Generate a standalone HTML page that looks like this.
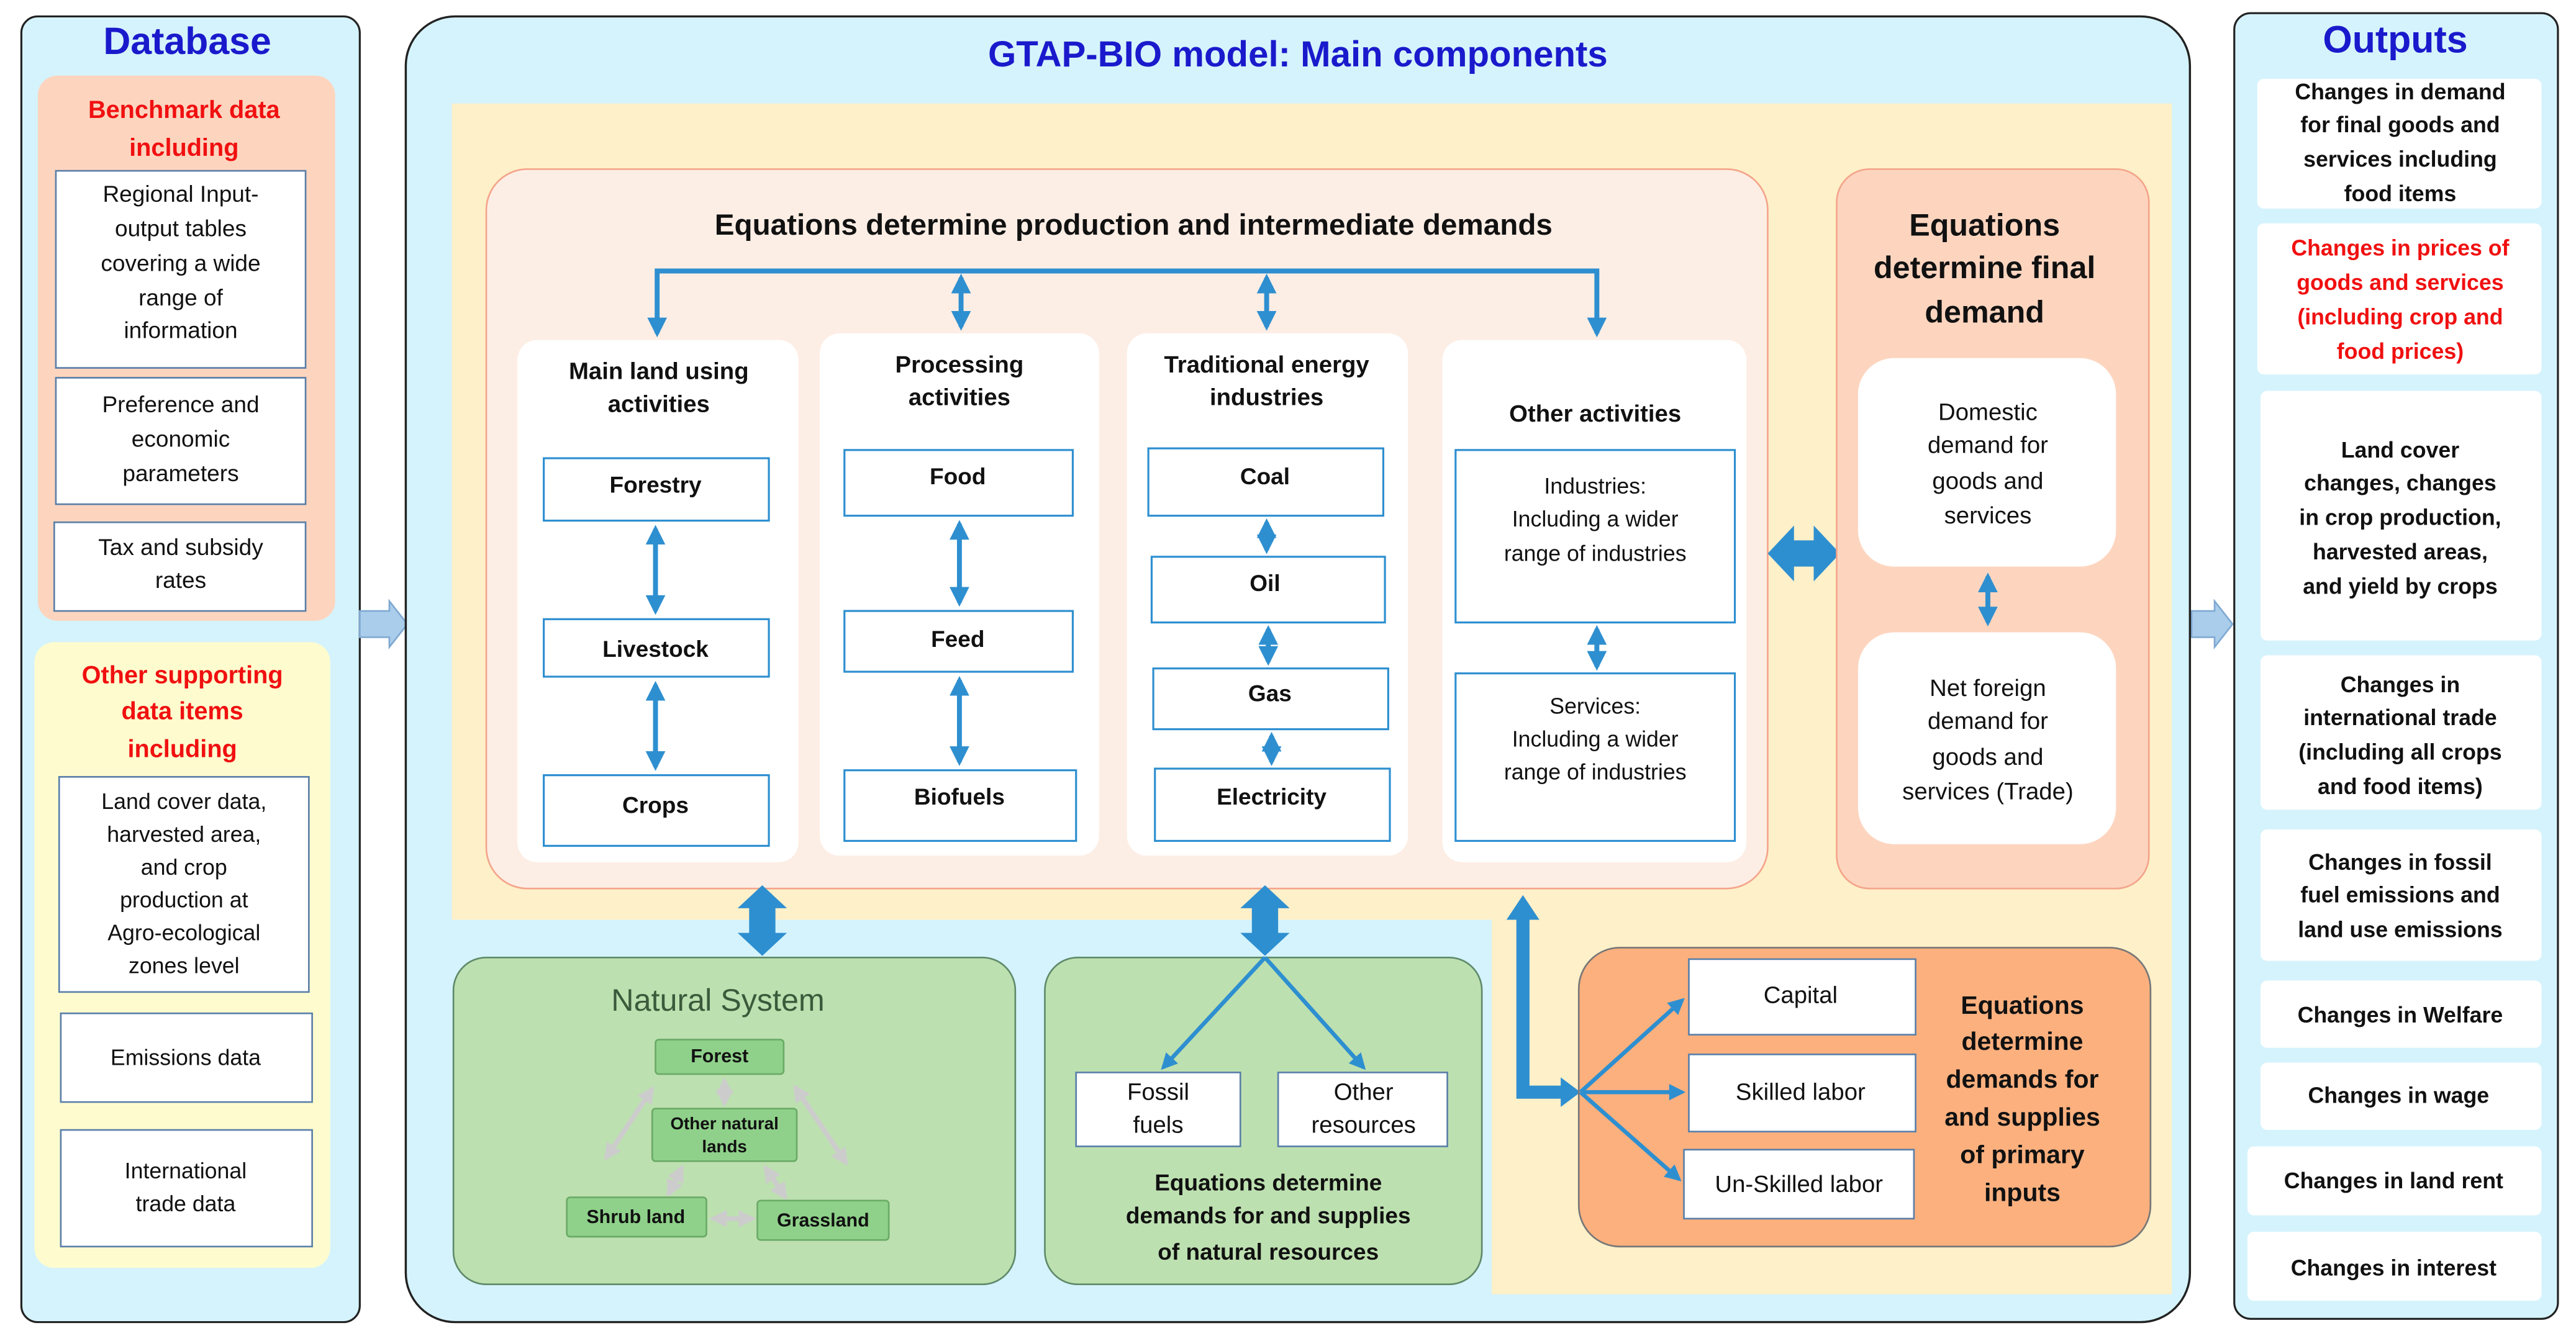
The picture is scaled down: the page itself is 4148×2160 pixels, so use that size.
<!DOCTYPE html>
<html><head><meta charset="utf-8"><style>
html,body{margin:0;padding:0;background:#fff;}
svg{display:block;}
text{font-family:"Liberation Sans",sans-serif;text-anchor:middle;dominant-baseline:central;}
.b{font-weight:bold;}
</style></head><body>
<svg width="4148" height="2160" viewBox="0 0 1568 816.5" xmlns="http://www.w3.org/2000/svg">
<defs>
<marker id="ah" viewBox="0 0 10 10" refX="8" refY="5" markerWidth="4" markerHeight="4" orient="auto-start-reverse"><path d="M0,0 L10,5 L0,10 z" fill="#2e8fd0"/></marker>
<marker id="ag" viewBox="0 0 10 10" refX="8" refY="5" markerWidth="3.5" markerHeight="3.5" orient="auto-start-reverse"><path d="M0,0 L10,5 L0,10 z" fill="#cccccc"/></marker>
</defs>
<rect width="1568" height="816.5" fill="#fff"/>

<!-- Database panel -->
<rect x="13" y="10" width="206" height="795" rx="10" fill="#d5f3fc" stroke="#222" stroke-width="1.2"/>
<text x="114" y="25" class="b" font-size="23" fill="#1a1acc">Database</text>
<rect x="23" y="46" width="181" height="332" rx="12" fill="#fdd5bf"/>
<g class="b" font-size="15" fill="#f01010"><text x="112" y="67" class="b">Benchmark data</text><text x="112" y="90" class="b">including</text></g>
<g fill="#fff" stroke="#5a7fa8" stroke-width="1">
<rect x="34" y="104" width="152" height="120"/><rect x="34" y="230" width="152" height="77"/><rect x="33" y="318" width="153" height="54"/>
</g>
<g font-size="14" fill="#111">
<text x="110" y="118">Regional Input-</text><text x="110" y="139">output tables</text><text x="110" y="160">covering a wide</text><text x="110" y="181">range of</text><text x="110" y="201">information</text>
<text x="110" y="246">Preference and</text><text x="110" y="267">economic</text><text x="110" y="288">parameters</text>
<text x="110" y="333">Tax and subsidy</text><text x="110" y="353">rates</text>
</g>
<rect x="21" y="391" width="180" height="381" rx="12" fill="#fefccf"/>
<g font-size="15" fill="#f01010"><text x="111" y="411" class="b">Other supporting</text><text x="111" y="433" class="b">data items</text><text x="111" y="456" class="b">including</text></g>
<g fill="#fff" stroke="#5a7fa8" stroke-width="1">
<rect x="36" y="473" width="152" height="131"/><rect x="37" y="617" width="153" height="54"/><rect x="37" y="688" width="153" height="71"/>
</g>
<g font-size="13.5" fill="#111">
<text x="112" y="488">Land cover data,</text><text x="112" y="508">harvested area,</text><text x="112" y="528">and crop</text><text x="112" y="548">production at</text><text x="112" y="568">Agro-ecological</text><text x="112" y="588">zones level</text>
<text x="113" y="644">Emissions data</text>
<text x="113" y="713">International</text><text x="113" y="733">trade data</text>
</g>
<!-- hollow arrows -->
<path d="M219,372 L237,372 L237,366 L248,380 L237,394 L237,388 L219,388 z" fill="#a9cdea" stroke="#7fa9d2" stroke-width="1"/>
<path d="M1334,372 L1348,372 L1348,366 L1359,380 L1348,394 L1348,388 L1334,388 z" fill="#a9cdea" stroke="#7fa9d2" stroke-width="1"/>

<!-- Main panel -->
<rect x="247" y="10" width="1086" height="795" rx="30" fill="#d5f3fc" stroke="#222" stroke-width="1.3"/>
<text x="790" y="33" class="b" font-size="22" fill="#1a1acc">GTAP-BIO model: Main components</text>
<path d="M275,63 L1322,63 L1322,788 L908,788 L908,560 L275,560 z" fill="#fef0c9"/>

<!-- production box -->
<rect x="296" y="103" width="780" height="438" rx="25" fill="#fdeee5" stroke="#f4a48a" stroke-width="1"/>
<text x="690" y="137" class="b" font-size="18" fill="#111">Equations determine production and intermediate demands</text>
<g stroke="#2e8fd0" stroke-width="3" fill="none">
<path d="M400,203 L400,165 L972,165 L972,203" marker-start="url(#ah)" marker-end="url(#ah)"/>
<line x1="585" y1="169" x2="585" y2="199" marker-start="url(#ah)" marker-end="url(#ah)"/>
<line x1="771" y1="169" x2="771" y2="199" marker-start="url(#ah)" marker-end="url(#ah)"/>
</g>
<g fill="#fff">
<rect x="315" y="207" width="171" height="318" rx="12"/><rect x="499" y="203" width="170" height="318" rx="12"/>
<rect x="686" y="203" width="171" height="318" rx="12"/><rect x="878" y="207" width="185" height="318" rx="12"/>
</g>
<g font-size="14.5" fill="#111">
<text x="401" y="226" class="b">Main land using</text><text x="401" y="246" class="b">activities</text>
<text x="584" y="222" class="b">Processing</text><text x="584" y="242" class="b">activities</text>
<text x="771" y="222" class="b">Traditional energy</text><text x="771" y="242" class="b">industries</text>
<text x="971" y="252" class="b">Other activities</text>
</g>
<g fill="#fff" stroke="#2e8fd0" stroke-width="1.2">
<rect x="331" y="279" width="137" height="38"/><rect x="331" y="377" width="137" height="35"/><rect x="331" y="472" width="137" height="43"/>
<rect x="514" y="274" width="139" height="40"/><rect x="514" y="372" width="139" height="37"/><rect x="514" y="469" width="141" height="43"/>
<rect x="699" y="273" width="143" height="41"/><rect x="701" y="339" width="142" height="40"/><rect x="702" y="407" width="143" height="37"/><rect x="703" y="468" width="143" height="44"/>
<rect x="886" y="274" width="170" height="105"/><rect x="886" y="410" width="170" height="102"/>
</g>
<g font-size="14" fill="#111" class="b">
<text x="399" y="295" class="b">Forestry</text><text x="399" y="395" class="b">Livestock</text><text x="399" y="490" class="b">Crops</text>
<text x="583" y="290" class="b">Food</text><text x="583" y="389" class="b">Feed</text><text x="584" y="485" class="b">Biofuels</text>
<text x="770" y="290" class="b">Coal</text><text x="770" y="355" class="b">Oil</text><text x="773" y="422" class="b">Gas</text><text x="774" y="485" class="b">Electricity</text>
</g>
<g font-size="13.5" fill="#111">
<text x="971" y="296">Industries:</text><text x="971" y="316">Including a wider</text><text x="971" y="337">range of industries</text>
<text x="971" y="430">Services:</text><text x="971" y="450">Including a wider</text><text x="971" y="470">range of industries</text>
</g>
<g stroke="#2e8fd0" stroke-width="3" fill="none">
<line x1="399" y1="322" x2="399" y2="372" marker-start="url(#ah)" marker-end="url(#ah)"/>
<line x1="399" y1="417" x2="399" y2="467" marker-start="url(#ah)" marker-end="url(#ah)"/>
<line x1="584" y1="319" x2="584" y2="367" marker-start="url(#ah)" marker-end="url(#ah)"/>
<line x1="584" y1="414" x2="584" y2="464" marker-start="url(#ah)" marker-end="url(#ah)"/>
<line x1="771" y1="318" x2="771" y2="335" marker-start="url(#ah)" marker-end="url(#ah)"/>
<line x1="772" y1="383" x2="772" y2="403" marker-start="url(#ah)" marker-end="url(#ah)"/>
<line x1="774" y1="448" x2="774" y2="464" marker-start="url(#ah)" marker-end="url(#ah)"/>
<line x1="972" y1="383" x2="972" y2="406" marker-start="url(#ah)" marker-end="url(#ah)"/>
</g>
<!-- big horizontal double arrow -->
<path d="M1076,337 L1092,320 L1092,329 L1104,329 L1104,320 L1120,337 L1104,354 L1104,345 L1092,345 L1092,354 z" fill="#2e8fd0"/>

<!-- Final demand -->
<rect x="1118" y="103" width="190" height="438" rx="20" fill="#fdd5bf" stroke="#f4a48a" stroke-width="1"/>
<g font-size="19" fill="#111"><text x="1208" y="137" class="b">Equations</text><text x="1208" y="163" class="b">determine final</text><text x="1208" y="190" class="b">demand</text></g>
<rect x="1131" y="218" width="157" height="127" rx="22" fill="#fff"/>
<rect x="1131" y="385" width="157" height="129" rx="22" fill="#fff"/>
<g font-size="14.5" fill="#111">
<text x="1210" y="251">Domestic</text><text x="1210" y="271">demand for</text><text x="1210" y="293">goods and</text><text x="1210" y="314">services</text>
<text x="1210" y="419">Net foreign</text><text x="1210" y="439">demand for</text><text x="1210" y="461">goods and</text><text x="1210" y="482">services (Trade)</text>
</g>
<line x1="1210" y1="351" x2="1210" y2="379" stroke="#2e8fd0" stroke-width="3" marker-start="url(#ah)" marker-end="url(#ah)"/>

<!-- thick vertical double arrows -->
<path d="M464,539 L479,553 L472,553 L472,568 L479,568 L464,582 L449,568 L456,568 L456,553 L449,553 z" fill="#2e8fd0"/>
<path d="M770,539 L785,553 L778,553 L778,568 L785,568 L770,582 L755,568 L762,568 L762,553 L755,553 z" fill="#2e8fd0"/>

<!-- Natural system -->
<rect x="276" y="583" width="342" height="199" rx="20" fill="#bde0b0" stroke="#5e8a6a" stroke-width="1"/>
<text x="437" y="609" font-size="19" fill="#3b5a3b">Natural System</text>
<g stroke="#cccccc" stroke-width="3" fill="none">
<line x1="441" y1="658" x2="441" y2="672" marker-start="url(#ag)" marker-end="url(#ag)"/>
<line x1="397" y1="663" x2="369" y2="705" marker-start="url(#ag)" marker-end="url(#ag)"/>
<line x1="484" y1="662" x2="515" y2="708" marker-start="url(#ag)" marker-end="url(#ag)"/>
<line x1="415" y1="711" x2="407" y2="727" marker-start="url(#ag)" marker-end="url(#ag)"/>
<line x1="466" y1="711" x2="478" y2="729" marker-start="url(#ag)" marker-end="url(#ag)"/>
<line x1="434" y1="742" x2="458" y2="742" marker-start="url(#ag)" marker-end="url(#ag)"/>
</g>
<g fill="#8fd18a" stroke="#6aaa66" stroke-width="1">
<rect x="399" y="633" width="78" height="21" rx="2"/><rect x="397" y="675" width="88" height="32" rx="2"/>
<rect x="345" y="729" width="85" height="24" rx="2"/><rect x="461" y="731" width="80" height="24" rx="2"/>
</g>
<g font-size="11.5" fill="#111">
<text x="438" y="643" class="b">Forest</text>
<text x="441" y="684" class="b" font-size="10.5">Other natural</text><text x="441" y="698" class="b" font-size="10.5">lands</text>
<text x="387" y="741" class="b">Shrub land</text><text x="501" y="743" class="b">Grassland</text>
</g>

<!-- resources -->
<rect x="636" y="583" width="266" height="199" rx="20" fill="#bde0b0" stroke="#5e8a6a" stroke-width="1"/>
<g stroke="#2e8fd0" stroke-width="2.5" fill="none">
<line x1="770" y1="583" x2="708" y2="650" marker-end="url(#ah)"/>
<line x1="770" y1="583" x2="830" y2="650" marker-end="url(#ah)"/>
</g>
<g fill="#fff" stroke="#5a7fa8" stroke-width="1"><rect x="655" y="653" width="100" height="45"/><rect x="778" y="653" width="103" height="45"/></g>
<g font-size="14.5" fill="#111">
<text x="705" y="665">Fossil</text><text x="705" y="685">fuels</text>
<text x="830" y="665">Other</text><text x="830" y="685">resources</text>
</g>
<g font-size="14" fill="#111"><text x="772" y="720" class="b">Equations determine</text><text x="772" y="740" class="b">demands for and supplies</text><text x="772" y="762" class="b">of natural resources</text></g>

<!-- L arrow -->
<path d="M927,545 L937,560 L931,560 L931,661 L950,661 L950,656 L962,665 L950,674 L950,669 L923,669 L923,560 L917,560 z" fill="#2e8fd0"/>

<!-- primary inputs -->
<rect x="961" y="577" width="348" height="182" rx="25" fill="#fbb07e" stroke="#777" stroke-width="1"/>
<g stroke="#2e8fd0" stroke-width="2.5" fill="none">
<line x1="962" y1="665" x2="1024" y2="609" marker-end="url(#ah)"/>
<line x1="962" y1="665" x2="1024" y2="665" marker-end="url(#ah)"/>
<line x1="962" y1="665" x2="1022" y2="718" marker-end="url(#ah)"/>
</g>
<g fill="#fff" stroke="#5a7fa8" stroke-width="1">
<rect x="1028" y="584" width="138" height="46"/><rect x="1028" y="642" width="138" height="47"/><rect x="1025" y="700" width="140" height="42"/>
</g>
<g font-size="14.5" fill="#111">
<text x="1096" y="606">Capital</text><text x="1096" y="665">Skilled labor</text><text x="1095" y="721">Un-Skilled labor</text>
</g>
<g font-size="15.5" fill="#111">
<text x="1231" y="612" class="b">Equations</text><text x="1231" y="634" class="b">determine</text><text x="1231" y="657" class="b">demands for</text>
<text x="1231" y="680" class="b">and supplies</text><text x="1231" y="703" class="b">of primary</text><text x="1231" y="726" class="b">inputs</text>
</g>

<!-- Outputs -->
<rect x="1360" y="8" width="197" height="795" rx="10" fill="#d5f3fc" stroke="#222" stroke-width="1.2"/>
<text x="1458" y="24" class="b" font-size="23" fill="#1a1acc">Outputs</text>
<g fill="#fff">
<rect x="1374" y="48" width="173" height="79" rx="4"/><rect x="1374" y="136" width="173" height="92" rx="4"/>
<rect x="1376" y="238" width="171" height="152" rx="4"/><rect x="1376" y="399" width="171" height="94" rx="4"/>
<rect x="1376" y="505" width="171" height="80" rx="4"/><rect x="1376" y="597" width="171" height="41" rx="4"/>
<rect x="1376" y="647" width="171" height="41" rx="4"/><rect x="1368" y="698" width="179" height="42" rx="4"/>
<rect x="1368" y="750" width="179" height="42" rx="4"/>
</g>
<g font-size="13.5" fill="#111">
<text x="1461" y="56" class="b">Changes in demand</text><text x="1461" y="76" class="b">for final goods and</text><text x="1461" y="97" class="b">services including</text><text x="1461" y="118" class="b">food items</text>
<text x="1461" y="274" class="b">Land cover</text><text x="1461" y="294" class="b">changes, changes</text><text x="1461" y="315" class="b">in crop production,</text><text x="1461" y="336" class="b">harvested areas,</text><text x="1461" y="357" class="b">and yield by crops</text>
<text x="1461" y="417" class="b">Changes in</text><text x="1461" y="437" class="b">international trade</text><text x="1461" y="458" class="b">(including all crops</text><text x="1461" y="479" class="b">and food items)</text>
<text x="1461" y="525" class="b">Changes in fossil</text><text x="1461" y="545" class="b">fuel emissions and</text><text x="1461" y="566" class="b">land use emissions</text>
<text x="1461" y="618" class="b">Changes in Welfare</text>
<text x="1460" y="667" class="b">Changes in wage</text>
<text x="1457" y="719" class="b">Changes in land rent</text>
<text x="1457" y="772" class="b">Changes in interest</text>
</g>
<g font-size="13.5" fill="#f01010">
<text x="1461" y="151" class="b">Changes in prices of</text><text x="1461" y="172" class="b">goods and services</text><text x="1461" y="193" class="b">(including crop and</text><text x="1461" y="214" class="b">food prices)</text>
</g>
</svg>
</body></html>
